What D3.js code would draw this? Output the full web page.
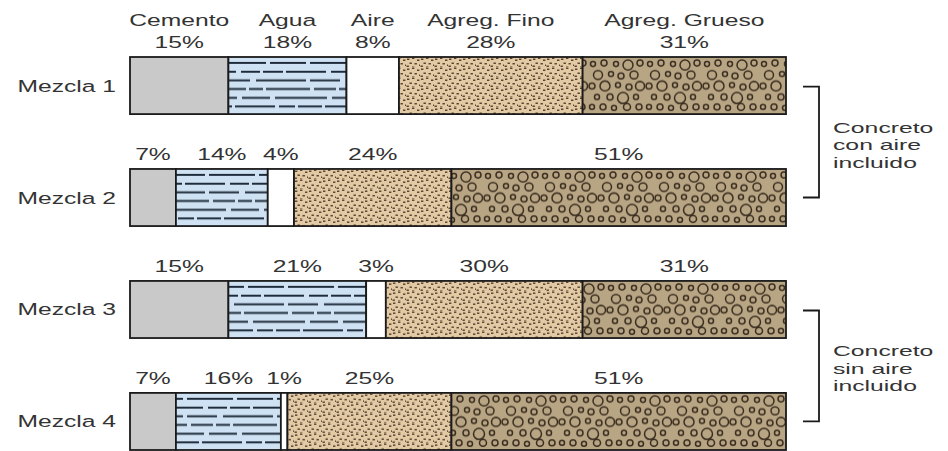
<!DOCTYPE html>
<html>
<head>
<meta charset="utf-8">
<script src="https://cdn.jsdelivr.net/npm/d3@7"></script>
<style>
  body { margin: 0; background: #fff; }
  text { font-family: "Liberation Sans", Arial, sans-serif; fill: #333; font-size: 17px; }
</style>
</head>
<body>
<div id="chart"></div>
<script>
// datos
const mezclas = ["Mezcla 1", "Mezcla 2", "Mezcla 3", "Mezcla 4"];
const componentes = ["Cemento", "Agua", "Aire", "Agreg. Fino", "Agreg. Grueso"];
const cemento = [15, 7, 15, 7];
const agua = [18, 14, 21, 16];
const aire = [8, 4, 3, 1];
const fino = [28, 24, 30, 25];
const grueso = [31, 51, 31, 51];
const grupos = [
  {lineas: ["Concreto", "con aire", "incluido"], desde: "Mezcla 1", hasta: "Mezcla 2"},
  {lineas: ["Concreto", "sin aire", "incluido"], desde: "Mezcla 3", hasta: "Mezcla 4"}
];

const width = 948, height = 451;
const sx = 1.45; // the original lettering is stretched sideways

const tabla = mezclas.map((m, i) => ({
  mezcla: m,
  "Cemento": cemento[i],
  "Agua": agua[i],
  "Aire": aire[i],
  "Agreg. Fino": fino[i],
  "Agreg. Grueso": grueso[i]
}));
const series = d3.stack().keys(componentes)(tabla);

const x = d3.scaleLinear().domain([0, 100]).range([130, 786]);
const y = d3.scaleBand().domain(mezclas).range([57, 450]).paddingInner(0.49).paddingOuter(0);

const svg = d3.select("#chart")
  .append("svg")
    .attr("width", width)
    .attr("height", height);

// texturas, una por mezcla para que empiecen en el borde de la barra
const defs = svg.append("defs");
const aguaFilas = [
  [36, 4, 46, 4],
  [20, 3, 40, 5, 19, 3],
  [50, 4, 30, 6],
  [14, 3, 44, 4, 22, 3],
  [28, 5, 52, 5],
  [40, 4, 16, 3, 24, 3]
];
const finoPuntos = [[1, 1.5], [6, 0.5], [11, 2.5], [3.5, 5.5], [8.5, 6], [13, 7.5], [0.5, 8.5], [6, 9.5]];
const gruesoCirc = [
  [5, 7, 2.5], [16, 6, 3], [28, 7, 2.5], [40, 8, 5], [52, 6, 3],
  [10, 18, 4.5], [23, 17, 2.5], [33, 19, 3], [46, 18, 4],
  [4, 29, 3], [17, 29, 5], [30, 28, 2.5], [41, 30, 3], [52, 29, 4.5],
  [9, 40, 2.5], [22, 40, 3], [35, 41, 5.5], [48, 40, 2.5],
  [4, 50, 2.5], [15, 50, 3], [26, 51, 2.5], [39, 50, 3.5], [51, 50, 3]
];

mezclas.forEach((m, i) => {
  const top = y(m);

  const pa = defs.append("pattern")
    .attr("id", "agua" + i)
    .attr("patternUnits", "userSpaceOnUse")
    .attr("x", 0).attr("y", top)
    .attr("width", 90).attr("height", y.bandwidth());
  pa.append("rect").attr("width", 90).attr("height", y.bandwidth()).attr("fill", "#cfe2f3");
  pa.selectAll("line").data(aguaFilas).join("line")
    .attr("x1", 0).attr("x2", 90)
    .attr("y1", (d, j) => 6 + j * 8.7)
    .attr("y2", (d, j) => 6 + j * 8.7)
    .attr("stroke", "#1e2b3a")
    .attr("stroke-width", 2)
    .attr("stroke-dasharray", d => d.join(" "))
    .attr("stroke-dashoffset", (d, j) => i * 11 + j * 7);

  const pf = defs.append("pattern")
    .attr("id", "fino" + i)
    .attr("patternUnits", "userSpaceOnUse")
    .attr("x", 0).attr("y", top)
    .attr("width", 14).attr("height", 10);
  pf.append("rect").attr("width", 14).attr("height", 10).attr("fill", "#e3caa5");
  pf.selectAll("rect.p").data(finoPuntos).join("rect")
    .attr("class", "p")
    .attr("x", d => d[0]).attr("y", d => d[1])
    .attr("width", 2.4).attr("height", 1.5)
    .attr("fill", "#3d2e1e")
    .attr("opacity", 0.85);

  const pg = defs.append("pattern")
    .attr("id", "grueso" + i)
    .attr("patternUnits", "userSpaceOnUse")
    .attr("x", 132 + i * 9).attr("y", top)
    .attr("width", 57).attr("height", y.bandwidth());
  pg.append("rect").attr("width", 57).attr("height", y.bandwidth()).attr("fill", "#b8a584");
  pg.selectAll("circle").data(gruesoCirc).join("circle")
    .attr("cx", d => d[0]).attr("cy", d => d[1]).attr("r", d => d[2])
    .attr("fill", "none")
    .attr("stroke", "#3a2d1f")
    .attr("stroke-width", 1.5);
});

function relleno(key, i) {
  if (key === "Cemento") return "#c9c9c9";
  if (key === "Agua") return "url(#agua" + i + ")";
  if (key === "Aire") return "#ffffff";
  if (key === "Agreg. Fino") return "url(#fino" + i + ")";
  return "url(#grueso" + i + ")";
}

// barras
const capas = svg.append("g").selectAll("g")
  .data(series)
  .join("g");

capas.selectAll("rect")
  .data(s => s.map((d, i) => ({key: s.key, i: i, d: d})))
  .join("rect")
    .attr("x", e => x(e.d[0]))
    .attr("y", e => y(e.d.data.mezcla))
    .attr("width", e => x(e.d[1]) - x(e.d[0]))
    .attr("height", y.bandwidth())
    .attr("fill", e => relleno(e.key, e.i))
    .attr("stroke", "#1a1a1a")
    .attr("stroke-width", 1.8);

// porcentajes encima de cada segmento
capas.selectAll("text.pct")
  .data(s => s.map(d => ({key: s.key, d: d})))
  .join("text")
    .attr("class", "pct")
    .attr("text-anchor", "middle")
    .attr("transform", e => `translate(${(x(e.d[0]) + x(e.d[1])) / 2},${y(e.d.data.mezcla) - 9}) scale(${sx},1)`)
    .text(e => e.d.data[e.key] + "%");

// nombres de componentes (solo encima de la primera mezcla)
svg.append("g").selectAll("text")
  .data(series)
  .join("text")
    .attr("text-anchor", "middle")
    .attr("transform", s => `translate(${(x(s[0][0]) + x(s[0][1])) / 2},${y(mezclas[0]) - 31}) scale(${sx},1)`)
    .text(s => s.key);

// etiquetas de mezcla
svg.append("g").selectAll("text")
  .data(mezclas)
  .join("text")
    .attr("text-anchor", "end")
    .attr("transform", m => `translate(116,${y(m) + y.bandwidth() / 2 + 6}) scale(${sx},1)`)
    .text(m => m);

// corchetes
const bx = 819, bt = 803;
const cor = svg.append("g").selectAll("g")
  .data(grupos)
  .join("g");

cor.append("path")
  .attr("d", g => {
    const y0 = y(g.desde) + y.bandwidth() / 2 + 1;
    const y1 = y(g.hasta) + y.bandwidth() / 2;
    return `M${bt},${y0}H${bx}V${y1}H${bt}`;
  })
  .attr("fill", "none")
  .attr("stroke", "#1a1a1a")
  .attr("stroke-width", 1.8);

// tres líneas por corchete, algo más pequeñas para que no se pisen
cor.selectAll("text")
  .data(g => {
    const mid = (y(g.desde) + y(g.hasta)) / 2 + y.bandwidth() / 2;
    return g.lineas.map((t, k) => ({t: t, yy: mid - 9 + k * 17.5}));
  })
  .join("text")
    .style("font-size", "15px")
    .attr("transform", d => `translate(833,${d.yy}) scale(1.65,1)`)
    .text(d => d.t);
</script>
</body>
</html>
